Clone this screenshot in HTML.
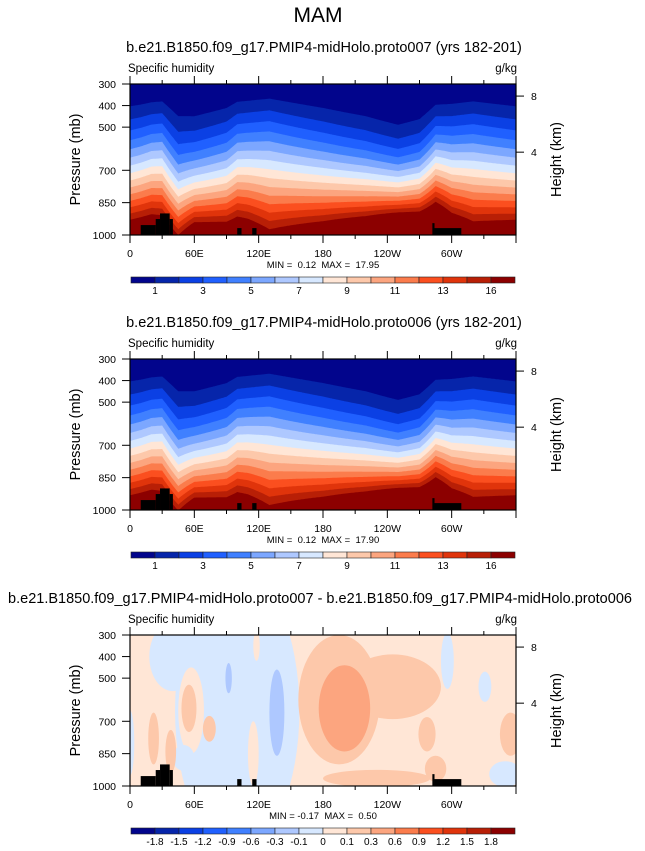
<!DOCTYPE html>
<html><head><meta charset="utf-8"><style>
html,body{margin:0;padding:0;background:#fff;}
svg{display:block;font-family:"Liberation Sans",Arial,sans-serif;}
</style></head><body>
<svg id="fig" width="645" height="851" viewBox="0 0 645 851" xmlns="http://www.w3.org/2000/svg">
<text x="318" y="22" font-size="21" text-anchor="middle">MAM</text>
</svg>
<script>
// ---- data ----
const sampleLons = [0, 10, 20, 30, 45, 60, 90, 100, 110, 130, 180, 220, 250, 270, 285, 300, 320, 360];
const qs1 = [17.6, 18.0, 18.4, 18.1, 15.0, 17.7, 17.3, 17.9, 17.4, 15.7, 17.4, 19.4, 22.0, 21.4, 22.1, 18.9, 17.0, 17.6];
const n1  = [1.50, 1.45, 1.38, 1.34, 1.75, 1.86, 1.55, 1.35, 1.30, 1.18, 1.55, 1.92, 2.36, 2.10, 1.56, 1.45, 1.31, 1.50];
const qs2 = [17.5, 17.9, 18.3, 18.0, 14.9, 17.6, 17.2, 17.8, 17.3, 15.6, 17.3, 19.3, 21.8, 21.2, 22.0, 18.8, 16.9, 17.5];
const n2  = [1.50, 1.45, 1.38, 1.34, 1.75, 1.86, 1.55, 1.35, 1.30, 1.18, 1.55, 1.92, 2.36, 2.10, 1.56, 1.45, 1.31, 1.50];
const qLevels = [1,2,3,4,5,6,7,8,9,10,11,12,13,14,15];
const qLabels = ["1","3","5","7","9","11","13","16"];
const dLabels = ["-1.8","-1.5","-1.2","-0.9","-0.6","-0.3","-0.1","0","0.1","0.3","0.6","0.9","1.2","1.5","1.8"];
const dLevels = [-1.8,-1.5,-1.2,-0.9,-0.6,-0.3,-0.1,0,0.1,0.3,0.6,0.9,1.2,1.5,1.8];
const palette = ["#02058c","#0625aa","#0b40e4","#2060ff","#4080ff","#7ca7ff","#aec8ff","#d7e8ff","#ffe6d6","#fdc8aa","#fca57f","#fb7c4c","#fb4f1f","#e0340b","#b81f06","#8c0000"];
// terrain: start lon, end lon, top pressure
const terrLon0 = [10, 24, 28, 37, 100, 114, 282, 284];
const terrLon1 = [24, 28, 37, 40, 104, 118, 284, 309];
const terrP    = [954, 926, 900, 926, 968, 968, 945, 968];
// difference blobs: lon centre, pressure centre, lon radius, pressure radius, value
const blobLon = [100, 40, 57, 55, 74, 115, 118, 137, 92, 50, 195, 245, 200, 230, 285, 277, 296, 331, 350, 0, 355, 22, 38];
const blobP   = [650, 400, 650, 640, 735, 850, 350, 660, 500, 870, 600, 540, 640, 965, 920, 760, 420, 540, 945, 800, 760, 780, 840];
const blobRL  = [58, 22, 12, 7, 6, 5, 3, 7, 3, 10, 38, 45, 24, 50, 10, 8, 6, 6, 15, 4, 10, 5, 5];
const blobRP  = [650, 160, 200, 110, 60, 150, 70, 200, 70, 60, 300, 150, 200, 40, 60, 80, 130, 70, 60, 150, 100, 120, 100];
const blobVal = [-0.05, -0.05, 0.05, 0.2, 0.2, 0.05, 0.05, -0.2, -0.2, -0.05, 0.2, 0.2, 0.45, 0.2, 0.2, 0.2, -0.05, -0.05, -0.05, -0.05, 0.2, 0.2, 0.2];
const xTickLabels = ["0","60E","120E","180","120W","60W"];
const yTicks = [300,400,500,700,850,1000];
const kmTicks = [8,4];
const kmP = [356,616];

// ---- layout ----
const NS="http://www.w3.org/2000/svg";
const svg=document.getElementById('fig');
const X0=130,X1=516,PH=151;
function el(tag,attrs,parent){const e=document.createElementNS(NS,tag);for(const k in attrs)e.setAttribute(k,attrs[k]);(parent||svg).appendChild(e);return e;}
function xS(lon){return X0+lon/360*(X1-X0);}
function interp(arr,lon){for(let i=0;i<sampleLons.length-1;i++){if(lon>=sampleLons[i]&&lon<=sampleLons[i+1]){const t=(lon-sampleLons[i])/(sampleLons[i+1]-sampleLons[i]);return arr[i]+t*(arr[i+1]-arr[i]);}}return arr[arr.length-1];}
function colorFor(v,levels){let i=0;while(i<levels.length&&v>=levels[i])i++;return palette[i];}

function panel(oy,title,titleX,qs,nn,diff,minmax,labels,pre){
  const top=84+oy, yS=p=>top+(p-300)/700*PH;
  const g=el('g',{});
  
  
  const t=el('text',{x:titleX,y:top-32,'font-size':14.5,'text-anchor':'middle'},g);t.textContent=title;
  
  const l1=el('text',{x:128,y:top-12,'font-size':11.5},g);l1.textContent='Specific humidity';
  
  const l2=el('text',{x:517,y:top-12,'font-size':11.5,'text-anchor':'end'},g);l2.textContent='g/kg';
  
  const clipId='clip'+pre;
  const cp=el('clipPath',{id:clipId},g);el('rect',{x:X0,y:top,width:X1-X0,height:PH},cp);
  const fg=el('g',{'clip-path':'url(#'+clipId+')'},g);
  
  if(!diff){
    el('rect',{x:X0,y:top,width:X1-X0,height:PH,fill:palette[0]},fg);
    qLevels.forEach((L,k)=>{
      let pts=[];
      for(let lon=0;lon<=360;lon+=1){const q=interp(qs,lon),n=interp(nn,lon);let p=300+700*Math.pow(Math.min(L/q,1.05),1/n);pts.push(xS(lon).toFixed(1)+','+yS(p).toFixed(1));}
      pts.push(xS(360)+','+(top+PH+2));pts.push(xS(0)+','+(top+PH+2));
      const pg=el('polygon',{points:pts.join(' '),fill:palette[k+1]},fg);
      
      
    });
  } else {
    el('rect',{x:X0,y:top,width:X1-X0,height:PH,fill:colorFor(0.05,dLevels)},fg);
    blobLon.forEach((c,i)=>{
      const e=el('ellipse',{cx:xS(c),cy:yS(blobP[i]),rx:blobRL[i]/360*(X1-X0),ry:blobRP[i]/700*PH,fill:colorFor(blobVal[i],dLevels)},fg);
      
      
    });
  }
  terrLon0.forEach((a,i)=>{
    const r=el('rect',{x:xS(a),y:yS(terrP[i]),width:xS(terrLon1[i])-xS(a),height:top+PH-yS(terrP[i]),fill:'#000'},fg);
    
    
  });
  const fr=el('rect',{x:X0,y:top,width:X1-X0,height:PH,fill:'none',stroke:'#000','stroke-width':1.2},g);
  
  for(let lon=0;lon<=360;lon+=30){
    const maj=lon%60===0, len=maj?8:4;
    el('line',{x1:xS(lon),x2:xS(lon),y1:top,y2:top-len,stroke:'#000'},g);
    el('line',{x1:xS(lon),x2:xS(lon),y1:top+PH,y2:top+PH+len,stroke:'#000'},g);
  }
  xTickLabels.forEach((s,i)=>{const tx=el('text',{x:xS(i*60),y:top+PH+22,'font-size':10.5,'text-anchor':'middle'},g);tx.textContent=s;
    });
  yTicks.forEach(p=>{el('line',{x1:X0,x2:X0-8,y1:yS(p),y2:yS(p),stroke:'#000'},g);
    const ty=el('text',{x:116,y:yS(p)+4,'font-size':10.5,'text-anchor':'end'},g);ty.textContent=p;
    });
  kmTicks.forEach((k,i)=>{el('line',{x1:X1,x2:X1+8,y1:yS(kmP[i]),y2:yS(kmP[i]),stroke:'#000'},g);
    const tk=el('text',{x:531,y:yS(kmP[i])+4,'font-size':10.5},g);tk.textContent=k;
    });
  const ya=el('text',{x:0,y:0,'font-size':14.5,'text-anchor':'middle',transform:`translate(80,${top+PH/2}) rotate(-90)`},g);ya.textContent='Pressure (mb)';
  
  const yb=el('text',{x:0,y:0,'font-size':14.5,'text-anchor':'middle',transform:`translate(561,${top+PH/2}) rotate(-90)`},g);yb.textContent='Height (km)';
  
  const mm=el('text',{x:323,y:top+PH+33,'font-size':9.5,'text-anchor':'middle',style:'white-space:pre'},g);mm.textContent=minmax;
  
  const cy=top+PH+42, cw=(515-131)/16;
  const cb=el('g',{},g);
  palette.forEach((c,i)=>{el('rect',{x:131+i*cw,y:cy,width:cw,height:6,fill:c,stroke:'#222','stroke-width':0.6},cb);});
  labels.forEach((s,i)=>{const b=diff?i+1:2*i+1;const tl=el('text',{x:131+b*cw,y:cy+17,'font-size':10,'text-anchor':'middle'},cb);tl.textContent=s;
    });
}
panel(0,'b.e21.B1850.f09_g17.PMIP4-midHolo.proto007 (yrs 182-201)',324,qs1,n1,false,'MIN =  0.12  MAX =  17.95',qLabels,'p1');
panel(275,'b.e21.B1850.f09_g17.PMIP4-midHolo.proto006 (yrs 182-201)',324,qs2,n2,false,'MIN =  0.12  MAX =  17.90',qLabels,'p2');
panel(551,'b.e21.B1850.f09_g17.PMIP4-midHolo.proto007 - b.e21.B1850.f09_g17.PMIP4-midHolo.proto006',320,qs1,n1,true,'MIN = -0.17  MAX =  0.50',dLabels,'p3');
</script>
</body></html>
